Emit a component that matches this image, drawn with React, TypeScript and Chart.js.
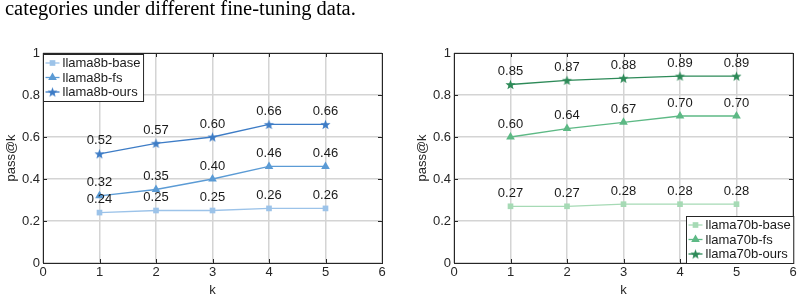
import React, { useEffect, useRef } from "react";
import { Chart, registerables } from "chart.js";

Chart.register(...registerables);

// ---------- data ----------
const kValues = [1, 2, 3, 4, 5];

const llama8bBase = [0.24, 0.25, 0.25, 0.26, 0.26];
const llama8bFs = [0.32, 0.35, 0.4, 0.46, 0.46];
const llama8bOurs = [0.52, 0.57, 0.6, 0.66, 0.66];

const llama70bBase = [0.27, 0.27, 0.28, 0.28, 0.28];
const llama70bFs = [0.6, 0.64, 0.67, 0.7, 0.7];
const llama70bOurs = [0.85, 0.87, 0.88, 0.89, 0.89];

const leftLabels = ["llama8b-base", "llama8b-fs", "llama8b-ours"];
const rightLabels = ["llama70b-base", "llama70b-fs", "llama70b-ours"];

const leftColors = ["#9cc3e9", "#5b9bd5", "#3d7cc6"];
const rightColors = ["#a6dab5", "#5db985", "#2d8a58"];

const xTickMin = 0;
const xTickMax = 6;
const yTickMin = 0;
const yTickMax = 1;

const captionText = "categories under different fine-tuning data.";
const xTitle = "k";
const yTitle = "pass@k";

const FONT = "'Liberation Sans', Arial, Helvetica, sans-serif";

function makeStar(color: string, outer: number, inner: number) {
  const size = Math.ceil(outer * 2 + 2);
  const c = document.createElement("canvas");
  c.width = size;
  c.height = size;
  const ctx = c.getContext("2d")!;
  const cx = size / 2;
  const cy = size / 2 + 0.5;
  ctx.beginPath();
  for (let i = 0; i < 10; i++) {
    const r = i % 2 === 0 ? outer : inner;
    const a = -Math.PI / 2 + (i * Math.PI) / 5;
    const x = cx + r * Math.cos(a);
    const y = cy + r * Math.sin(a);
    if (i === 0) ctx.moveTo(x, y);
    else ctx.lineTo(x, y);
  }
  ctx.closePath();
  ctx.fillStyle = color;
  ctx.fill();
  return c;
}

function drawMarker(ctx: CanvasRenderingContext2D, style: any, x: number, y: number, r: number, color: string) {
  ctx.save();
  ctx.fillStyle = color;
  if (style instanceof HTMLCanvasElement) {
    ctx.drawImage(style, x - style.width / 2, y - style.height / 2);
  } else if (style === "rect") {
    const s = Math.SQRT1_2 * r;
    ctx.fillRect(x - s, y - s, 2 * s, 2 * s);
  } else if (style === "triangle") {
    ctx.beginPath();
    ctx.moveTo(x, y - r);
    ctx.lineTo(x + r * Math.cos(Math.PI / 6), y + r * 0.5);
    ctx.lineTo(x - r * Math.cos(Math.PI / 6), y + r * 0.5);
    ctx.closePath();
    ctx.fill();
  }
  ctx.restore();
}

const overlayPlugin = {
  id: "overlay",
  afterDatasetsDraw(chart: any, _args: any, opts: any) {
    const ctx = chart.ctx;
    const area = chart.chartArea;
    const xs = chart.scales.x;
    const ys = chart.scales.y;
    ctx.save();
    // inner ticks
    ctx.strokeStyle = "#262626";
    ctx.lineWidth = 1;
    const tl = 4;
    ctx.beginPath();
    xs.ticks.forEach((t: any) => {
      const px = Math.round(xs.getPixelForValue(t.value)) + 0.5;
      ctx.moveTo(px, area.bottom);
      ctx.lineTo(px, area.bottom - tl);
      ctx.moveTo(px, area.top);
      ctx.lineTo(px, area.top + tl);
    });
    ys.ticks.forEach((t: any) => {
      const py = Math.round(ys.getPixelForValue(t.value)) + 0.5;
      ctx.moveTo(area.left, py);
      ctx.lineTo(area.left + tl, py);
      ctx.moveTo(area.right, py);
      ctx.lineTo(area.right - tl, py);
    });
    ctx.stroke();
    // box
    ctx.strokeRect(
      Math.round(area.left) + 0.5,
      Math.round(area.top) + 0.5,
      Math.round(area.right - area.left),
      Math.round(area.bottom - area.top)
    );

    // data labels
    ctx.font = `13px ${FONT}`;
    ctx.fillStyle = "#1a1a1a";
    ctx.textAlign = "center";
    ctx.textBaseline = "middle";
    chart.data.datasets.forEach((ds: any, di: number) => {
      const meta = chart.getDatasetMeta(di);
      meta.data.forEach((pt: any, i: number) => {
        const v = ds.data[i].y;
        ctx.fillText(v.toFixed(2), pt.x, pt.y - 13);
      });
    });

    // legend
    let maxW = 0;
    chart.data.datasets.forEach((ds: any) => {
      maxW = Math.max(maxW, ctx.measureText(ds.label).width);
    });
    const boxW = 19 + maxW + 3;
    const rowH = 14.5;
    const boxH = 47;
    let bx: number, by: number;
    if (opts.legendPos === "topleft") {
      bx = Math.round(area.left) + 0.5;
      by = Math.round(area.top) + 1.5;
    } else {
      bx = Math.round(area.right - boxW) + 0.5;
      by = Math.round(area.bottom - boxH) + 0.5;
    }
    ctx.fillStyle = "#ffffff";
    ctx.fillRect(bx, by, boxW, boxH);
    ctx.strokeStyle = "#262626";
    ctx.lineWidth = 1;
    ctx.strokeRect(bx, by, boxW, boxH);
    chart.data.datasets.forEach((ds: any, di: number) => {
      const cy = by + 8.5 + di * rowH;
      ctx.strokeStyle = ds.borderColor;
      ctx.lineWidth = ds.borderWidth;
      ctx.beginPath();
      ctx.moveTo(bx + 2, cy);
      ctx.lineTo(bx + 16, cy);
      ctx.stroke();
      drawMarker(ctx, ds.pointStyle, bx + 9, cy, ds.pointRadius, ds.pointBackgroundColor);
      ctx.fillStyle = "#1a1a1a";
      ctx.textAlign = "left";
      ctx.textBaseline = "middle";
      ctx.fillText(ds.label, bx + 19, cy + 0.5);
    });
    ctx.restore();
  },
};

type PanelProps = {
  series: number[][];
  labels: string[];
  colors: string[];
  legendPos: "topleft" | "bottomright";
  padLeft: number;
  padRight: number;
};

function Panel({ series, labels, colors, legendPos, padLeft, padRight }: PanelProps) {
  const ref = useRef<HTMLCanvasElement | null>(null);
  useEffect(() => {
    if (!ref.current) return;
    const styles: any[] = ["rect", "triangle", makeStar(colors[2], 5.3, 2.2)];
    const radii = [4, 5, 5];
    const datasets = series.map((vals, i) => ({
      label: labels[i],
      data: kValues.map((k, j) => ({ x: k, y: vals[j] })),
      borderColor: colors[i],
      backgroundColor: colors[i],
      pointBackgroundColor: colors[i],
      pointBorderColor: colors[i],
      pointBorderWidth: 0,
      borderWidth: 1.3,
      pointStyle: styles[i],
      pointRadius: radii[i],
      tension: 0,
    }));
    const tickFont = { family: FONT, size: 13 };
    const chart = new Chart(ref.current, {
      type: "line",
      data: { datasets },
      plugins: [overlayPlugin],
      options: {
        animation: false,
        responsive: false,
        maintainAspectRatio: false,
        layout: { padding: { left: padLeft, right: padRight, top: 53, bottom: 0 } },
        plugins: {
          legend: { display: false },
          tooltip: { enabled: false },
          overlay: { legendPos },
        } as any,
        scales: {
          x: {
            type: "linear",
            min: xTickMin,
            max: xTickMax,
            ticks: {
              stepSize: 1,
              padding: 2,
              color: "#262626",
              font: tickFont,
              callback: (v: any) => String(Math.round(Number(v))),
            },
            grid: { color: "#d4d4d4", lineWidth: 1.5, drawTicks: false },
            border: { display: false },
            title: {
              display: true,
              text: xTitle,
              color: "#262626",
              font: tickFont,
              padding: { top: 0, bottom: 1 },
            },
            afterFit: (s: any) => {
              s.height = 36;
            },
          },
          y: {
            type: "linear",
            min: yTickMin,
            max: yTickMax,
            ticks: {
              stepSize: 0.2,
              padding: 3,
              color: "#262626",
              font: tickFont,
              callback: (v: any) => {
                const n = Math.round(Number(v) * 10) / 10;
                return n === 0 || n === 1 ? String(n) : n.toFixed(1);
              },
            },
            grid: { color: "#d4d4d4", lineWidth: 1.5, drawTicks: false },
            border: { display: false },
            title: {
              display: true,
              text: yTitle,
              color: "#262626",
              font: tickFont,
              padding: { top: 4, bottom: 0 },
            },
            afterFit: (s: any) => {
              s.width = 43;
            },
          },
        },
      } as any,
    });
    return () => chart.destroy();
  }, []);
  return <canvas ref={ref} width={402} height={299} style={{ display: "block", width: 402, height: 299 }} />;
}

export default function App() {
  return (
    <div
      style={{
        position: "fixed",
        left: 0,
        top: 0,
        width: 804,
        height: 299,
        background: "#ffffff",
        overflow: "hidden",
      }}
    >
      <div style={{ position: "absolute", left: 0, top: 0, display: "flex" }}>
        <Panel
          series={[llama8bBase, llama8bFs, llama8bOurs]}
          labels={leftLabels}
          colors={leftColors}
          legendPos="topleft"
          padLeft={0}
          padRight={20}
        />
        <Panel
          series={[llama70bBase, llama70bFs, llama70bOurs]}
          labels={rightLabels}
          colors={rightColors}
          legendPos="bottomright"
          padLeft={9}
          padRight={11}
        />
      </div>
      <div
        style={{
          position: "absolute",
          left: 5,
          top: -2,
          fontFamily: "'Liberation Serif', 'Times New Roman', serif",
          fontSize: 20.5,
          lineHeight: "20px",
          color: "#000",
          whiteSpace: "nowrap",
        }}
      >
        {captionText}
      </div>
    </div>
  );
}
